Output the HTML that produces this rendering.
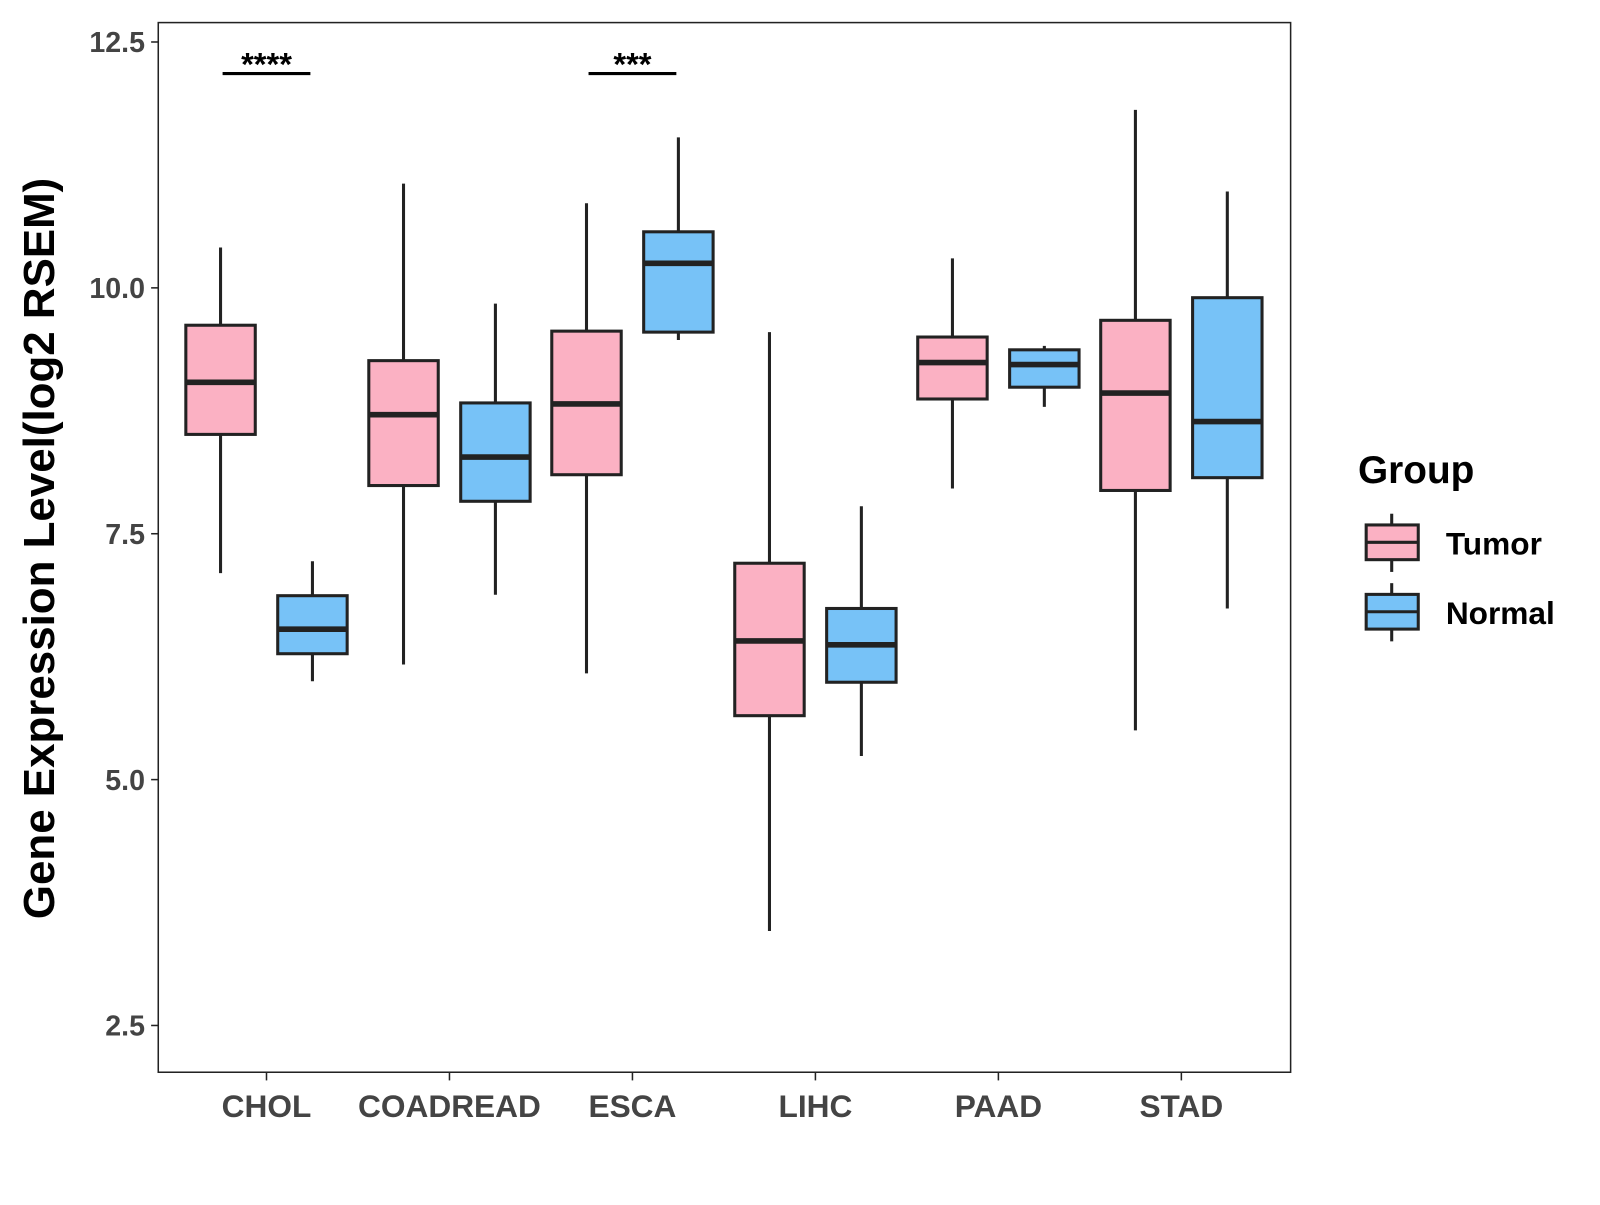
<!DOCTYPE html>
<html><head><meta charset="utf-8"><style>
html,body{margin:0;padding:0;background:#fff;}
svg text{font-family:"Liberation Sans",Arial,sans-serif;font-weight:bold;}
</style></head><body>
<svg id="chart" width="1600" height="1200" viewBox="0 0 1567 1175" xmlns="http://www.w3.org/2000/svg">
<rect x="0" y="0" width="1567" height="1175" fill="#fff"/>
<rect x="155" y="22" width="1109" height="1028" fill="#fff" stroke="#222" stroke-width="1.5"/>
<g id="marks"></g>
<text transform="translate(53,537) rotate(-90)" text-anchor="middle" font-size="43" fill="#000">Gene Expression Level(log2 RSEM)</text>
<g>
<text x="1330" y="473" font-size="38" fill="#000">Group</text>
<g>
<line x1="1363" y1="503" x2="1363" y2="560" stroke="#222" stroke-width="3"/>
<rect x="1338" y="514" width="51" height="34" fill="#FBB1C3" stroke="#222" stroke-width="3"/>
<line x1="1338" y1="531" x2="1389" y2="531" stroke="#222" stroke-width="3"/>
<text x="1416" y="543" font-size="31" fill="#000">Tumor</text></g>
<g>
<line x1="1363" y1="571" x2="1363" y2="628" stroke="#222" stroke-width="3"/>
<rect x="1338" y="582" width="51" height="34" fill="#77C2F7" stroke="#222" stroke-width="3"/>
<line x1="1338" y1="599" x2="1389" y2="599" stroke="#222" stroke-width="3"/>
<text x="1416" y="611" font-size="31" fill="#000">Normal</text></g>
</g>
</svg>
<script>
const categories=["CHOL","COADREAD","ESCA","LIHC","PAAD","STAD"];
const tumorStats=[[7.10,8.51,9.04,9.62,10.41],[6.17,7.99,8.71,9.26,11.06],[6.08,8.10,8.82,9.56,10.86],[3.46,5.65,6.41,7.20,9.55],[7.96,8.87,9.24,9.50,10.30],[5.50,7.94,8.93,9.67,11.81]];
const normalStats=[[6.00,6.28,6.53,6.87,7.22],[6.88,7.83,8.28,8.83,9.84],[9.47,9.55,10.25,10.57,11.53],[5.24,5.99,6.37,6.74,7.78],[8.79,8.99,9.22,9.37,9.41],[6.74,8.07,8.64,9.90,10.98]];
const yTicks=[2.5,5.0,7.5,10.0,12.5];
const sigLabels=[["CHOL","****"],["ESCA","***"]];
const sigY=12.2;
const NS="http://www.w3.org/2000/svg";
const g=document.getElementById('marks');
function y(v){return 41+(12.5-v)*96.32;}
function x(i){return 261+i*179.2;}
function mk(t,a){const e=document.createElementNS(NS,t);for(const k in a)e.setAttribute(k,a[k]);g.appendChild(e);return e;}
yTicks.forEach(t=>{
 const l=mk('line',{x1:148,x2:155,y1:y(t),y2:y(t),stroke:'#222','stroke-width':1.5});
 
 
 const tx=mk('text',{x:142,y:y(t)+10,'text-anchor':'end','font-size':28,fill:'#444'});
 tx.textContent=t.toFixed(1);
 
 
});
categories.forEach((c,i)=>{
 const l=mk('line',{x1:x(i),x2:x(i),y1:1050,y2:1058,stroke:'#222','stroke-width':1.5});
 
 
 const tx=mk('text',{x:x(i),y:1094,'text-anchor':'middle','font-size':31,fill:'#444'});
 tx.textContent=c;
 
 
 [[tumorStats[i],-45,'#FBB1C3','tumor'],[normalStats[i],45,'#77C2F7','normal']].forEach(([s,off,col,nm])=>{
  const cx=x(i)+off,w=68;
  const wl=mk('line',{x1:cx,x2:cx,y1:y(s[0]),y2:y(s[4]),stroke:'#222','stroke-width':3});
  
  
  const r=mk('rect',{x:cx-w/2,y:y(s[3]),width:w,height:y(s[1])-y(s[3]),fill:col,stroke:'#222','stroke-width':3});
  
  
  const m=mk('line',{x1:cx-w/2,x2:cx+w/2,y1:y(s[2]),y2:y(s[2]),stroke:'#222','stroke-width':5.5});
  
  
 });
});
sigLabels.forEach(([c,lab])=>{
 const i=categories.indexOf(c);
 const l=mk('line',{x1:x(i)-43,x2:x(i)+43,y1:y(sigY)+2,y2:y(sigY)+2,stroke:'#000','stroke-width':3});
 
 
 const t=mk('text',{x:x(i),y:y(sigY)+4,'text-anchor':'middle','font-size':32,fill:'#000'});
 t.textContent=lab;
 
 
});
</script>
</body></html>
